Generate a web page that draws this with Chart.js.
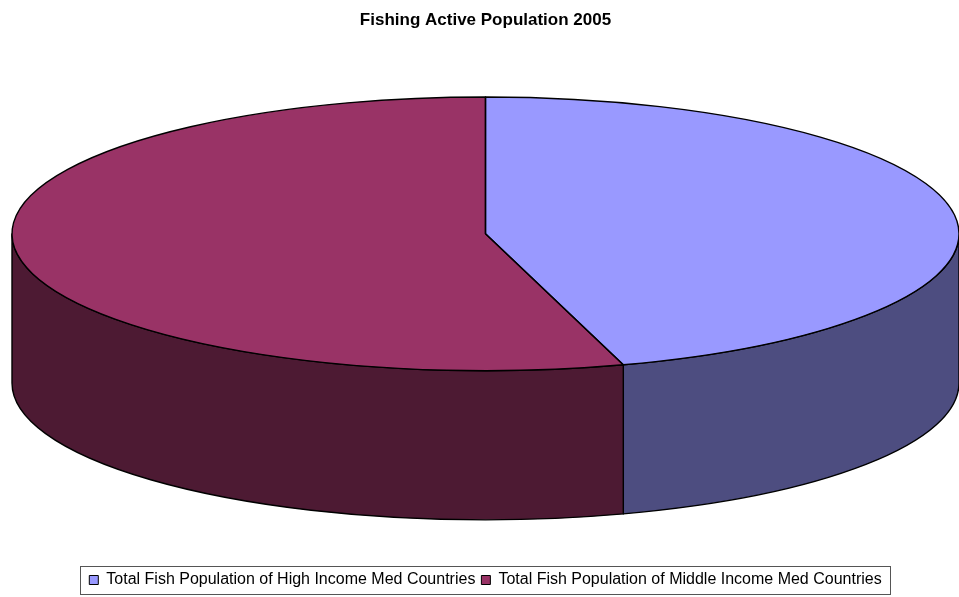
<!DOCTYPE html>
<html>
<head>
<meta charset="utf-8">
<script src="https://cdn.jsdelivr.net/npm/chart.js@4.4.1/dist/chart.umd.min.js"></script>
<style>
html,body{margin:0;padding:0;background:#fff;}
#wrap{width:959px;height:597px;position:relative;}
</style>
</head>
<body>
<div id="wrap"><canvas id="c" width="959" height="597"></canvas></div>
<script>
const chartTitle = 'Fishing Active Population 2005';
const categories = [
  'Total Fish Population of High Income Med Countries',
  'Total Fish Population of Middle Income Med Countries'
];
const values = [45.3, 54.7];
const topColors = ['#9999FF', '#993366'];
const sideColors = ['#4D4D80', '#4D1A33'];

const pie3d = {
  id: 'pie3d',
  beforeDatasetsDraw(chart, args, opts) {
    const meta = chart.getDatasetMeta(0);
    const ca = chart.chartArea;
    const rx = ca.width / 2, ry = rx * opts.tilt, depth = rx * opts.depth;
    const cx = ca.left + rx, cy = ca.top + ry;
    chart.$pie3d = {rx, ry, depth, cx, cy};
    const ctx = chart.ctx;
    ctx.save();
    ctx.lineWidth = 1.4;
    ctx.strokeStyle = '#000';
    ctx.lineJoin = 'round';
    meta.data.forEach((arc, i) => {
      for (const k of [-2, 0, 2]) {
        const s = Math.max(arc.startAngle + k * Math.PI, 0);
        const e = Math.min(arc.endAngle + k * Math.PI, Math.PI);
        if (e > s) {
          ctx.beginPath();
          ctx.ellipse(cx, cy, rx, ry, 0, s, e);
          ctx.ellipse(cx, cy + depth, rx, ry, 0, e, s, true);
          ctx.closePath();
          ctx.fillStyle = sideColors[i];
          ctx.fill();
          ctx.stroke();
        }
      }
    });
    ctx.restore();
    const a0 = meta.data[0];
    ctx.save();
    ctx.translate(cx, cy);
    ctx.scale(rx / a0.outerRadius, ry / a0.outerRadius);
    ctx.translate(-a0.x, -a0.y);
  },
  afterDatasetsDraw(chart) {
    const ctx = chart.ctx;
    ctx.restore();
    const {rx, ry, cx, cy} = chart.$pie3d;
    const meta = chart.getDatasetMeta(0);
    ctx.save();
    ctx.lineWidth = 1.4;
    ctx.strokeStyle = '#000';
    ctx.lineJoin = 'round';
    meta.data.forEach(arc => {
      ctx.beginPath();
      ctx.moveTo(cx, cy);
      ctx.ellipse(cx, cy, rx, ry, 0, arc.startAngle, arc.endAngle);
      ctx.closePath();
      ctx.stroke();
    });
    ctx.restore();
  },
  afterDraw(chart) {
    const boxes = chart.legend && chart.legend.legendHitBoxes;
    if (!boxes || !boxes.length) return;
    let l = Infinity, r = -Infinity, t = Infinity, b = -Infinity;
    boxes.forEach(h => {
      l = Math.min(l, h.left); r = Math.max(r, h.left + h.width);
      t = Math.min(t, h.top); b = Math.max(b, h.top + h.height);
    });
    const ctx = chart.ctx;
    ctx.save();
    ctx.strokeStyle = '#555';
    ctx.lineWidth = 1;
    ctx.strokeRect(Math.round(l - 9) + 0.5, Math.round(t - 6) + 0.5, Math.round(r - l + 18), Math.round(b - t + 12));
    ctx.restore();
  }
};

new Chart(document.getElementById('c'), {
  type: 'doughnut',
  data: {
    labels: categories,
    datasets: [{
      data: values,
      backgroundColor: topColors,
      borderWidth: 0
    }]
  },
  options: {
    responsive: false,
    animation: false,
    events: [],
    cutout: 0,
    rotation: 0,
    layout: {padding: {left: 12, right: 0, top: 0, bottom: -1}},
    plugins: {
      pie3d: {tilt: 0.289, depth: 0.315},
      tooltip: {enabled: false},
      title: {
        display: true,
        text: chartTitle,
        color: '#000',
        font: {family: 'Liberation Sans, Arial, sans-serif', size: 17, weight: 'bold'},
        padding: {top: 10, bottom: 66.6}
      },
      legend: {
        display: true,
        position: 'bottom',
        labels: {
          color: '#000',
          font: {family: 'Liberation Sans, Arial, sans-serif', size: 16},
          boxWidth: 9,
          boxHeight: 9,
          padding: 6,
          generateLabels(chart) {
            const items = Chart.overrides.doughnut.plugins.legend.labels.generateLabels(chart);
            return items.map(it => Object.assign({}, it, {strokeStyle: '#000', lineWidth: 1}));
          }
        }
      }
    }
  },
  plugins: [pie3d]
});
</script>
</body>
</html>
